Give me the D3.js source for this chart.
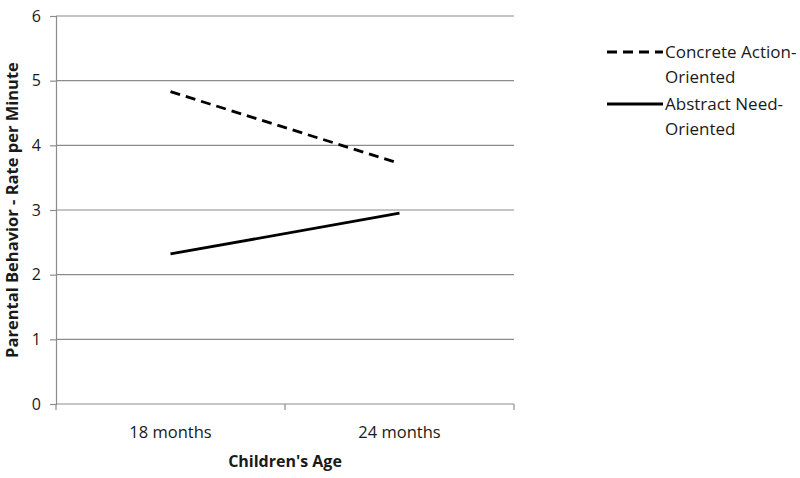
<!DOCTYPE html>
<html>
<head>
<meta charset="utf-8">
<script src="https://cdn.jsdelivr.net/npm/d3@7"></script>
<style>
  body { margin: 0; background: #fff; }
  text { font-family: "Open Sans", Lato, sans-serif; fill: #1a1a1a; }
</style>
</head>
<body>
<div id="graf"></div>
<script>
// Datos
const edades = ["18 months", "24 months"]
const concreta = [4.83, 3.72]
const abstracta = [2.32, 2.95]
const series = [
  { nombre: ["Concrete Action-", "Oriented"], valores: concreta, dash: "10,6" },
  { nombre: ["Abstract Need-", "Oriented"], valores: abstracta, dash: null },
]
const yTicks = [0, 1, 2, 3, 4, 5, 6]

const draw = () => {
  const anchoTotal = 800
  const altoTotal = 478
  const margins = { top: 16, right: 286, bottom: 74, left: 56 }
  const ancho = anchoTotal - margins.left - margins.right
  const alto = altoTotal - margins.top - margins.bottom

  const svg = d3.select("#graf")
    .append("svg")
    .attr("width", anchoTotal)
    .attr("height", altoTotal)

  const chart = svg.append("g")
    .attr("transform", `translate(${margins.left}, ${margins.top})`)

  // Escaladores
  const x = d3.scaleBand().domain(edades).range([0, ancho])
  const y = d3.scaleLinear().domain([0, 6]).range([alto, 0])

  // Rejilla
  chart.append("g")
    .selectAll("line")
    .data(yTicks.slice(1))
    .join("line")
    .attr("x1", 0)
    .attr("x2", ancho)
    .attr("y1", (d) => y(d))
    .attr("y2", (d) => y(d))
    .attr("stroke", "#8c8c8c")
    .attr("stroke-width", 1.2)

  // Eje Y
  const yAxis = d3.axisLeft(y).tickValues(yTicks).tickSize(6).tickPadding(9).tickFormat(d3.format("d"))
  const yAxisGroup = chart.append("g").call(yAxis)
  yAxisGroup.select(".domain").attr("stroke", "#8c8c8c").attr("stroke-width", 1.2)
  yAxisGroup.selectAll(".tick line").attr("stroke", "#8c8c8c").attr("stroke-width", 1.2)
  yAxisGroup.selectAll(".tick text").style("font-size", "16px").style("font-family", "'Open Sans', sans-serif")

  // Eje X
  const xAxisGroup = chart.append("g")
    .attr("transform", `translate(0, ${alto})`)
  xAxisGroup.append("line")
    .attr("x1", 0).attr("x2", ancho)
    .attr("stroke", "#8c8c8c").attr("stroke-width", 1.2)
  const limites = [0, ...edades.map((d) => x(d) + x.bandwidth())]
  xAxisGroup.selectAll("line.tk")
    .data(limites)
    .join("line")
    .attr("class", "tk")
    .attr("x1", (d) => d).attr("x2", (d) => d)
    .attr("y1", 0).attr("y2", 6)
    .attr("stroke", "#8c8c8c").attr("stroke-width", 1.2)
  xAxisGroup.selectAll("text.lbl")
    .data(edades)
    .join("text")
    .attr("class", "lbl")
    .attr("x", (d) => x(d) + x.bandwidth() / 2)
    .attr("y", 34)
    .attr("text-anchor", "middle")
    .style("font-size", "16.5px")
    .text((d) => d)

  // Títulos
  chart.append("text")
    .attr("x", ancho / 2)
    .attr("y", alto + 63)
    .attr("text-anchor", "middle")
    .style("font-size", "16px")
    .style("font-weight", "bold")
    .text("Children's Age")

  svg.append("text")
    .attr("transform", `translate(18, ${margins.top + alto / 2}) rotate(-90)`)
    .attr("text-anchor", "middle")
    .style("font-size", "16.5px")
    .style("font-weight", "bold")
    .text("Parental Behavior - Rate per Minute")

  // Líneas
  const linea = d3.line()
    .x((d, i) => x(edades[i]) + x.bandwidth() / 2)
    .y((d) => y(d))

  chart.selectAll("path.serie")
    .data(series)
    .join("path")
    .attr("class", "serie")
    .attr("fill", "none")
    .attr("stroke", "#000")
    .attr("stroke-width", 2.8)
    .attr("stroke-dasharray", (d) => d.dash)
    .attr("d", (d) => linea(d.valores))

  // Leyenda
  const leyenda = svg.append("g").attr("transform", "translate(607, 52)")
  const item = leyenda.selectAll("g")
    .data(series)
    .join("g")
    .attr("transform", (d, i) => `translate(0, ${i * 52})`)
  item.append("line")
    .attr("x1", 0).attr("x2", 56)
    .attr("stroke", "#000")
    .attr("stroke-width", 2.8)
    .attr("stroke-dasharray", (d) => d.dash)
  item.append("text")
    .attr("x", 58)
    .attr("y", 6)
    .style("font-size", "17px")
    .selectAll("tspan")
    .data((d) => d.nombre)
    .join("tspan")
    .attr("x", 58)
    .attr("dy", (d, i) => (i === 0 ? 0 : 25))
    .text((d) => d)
}

draw()
</script>
</body>
</html>
